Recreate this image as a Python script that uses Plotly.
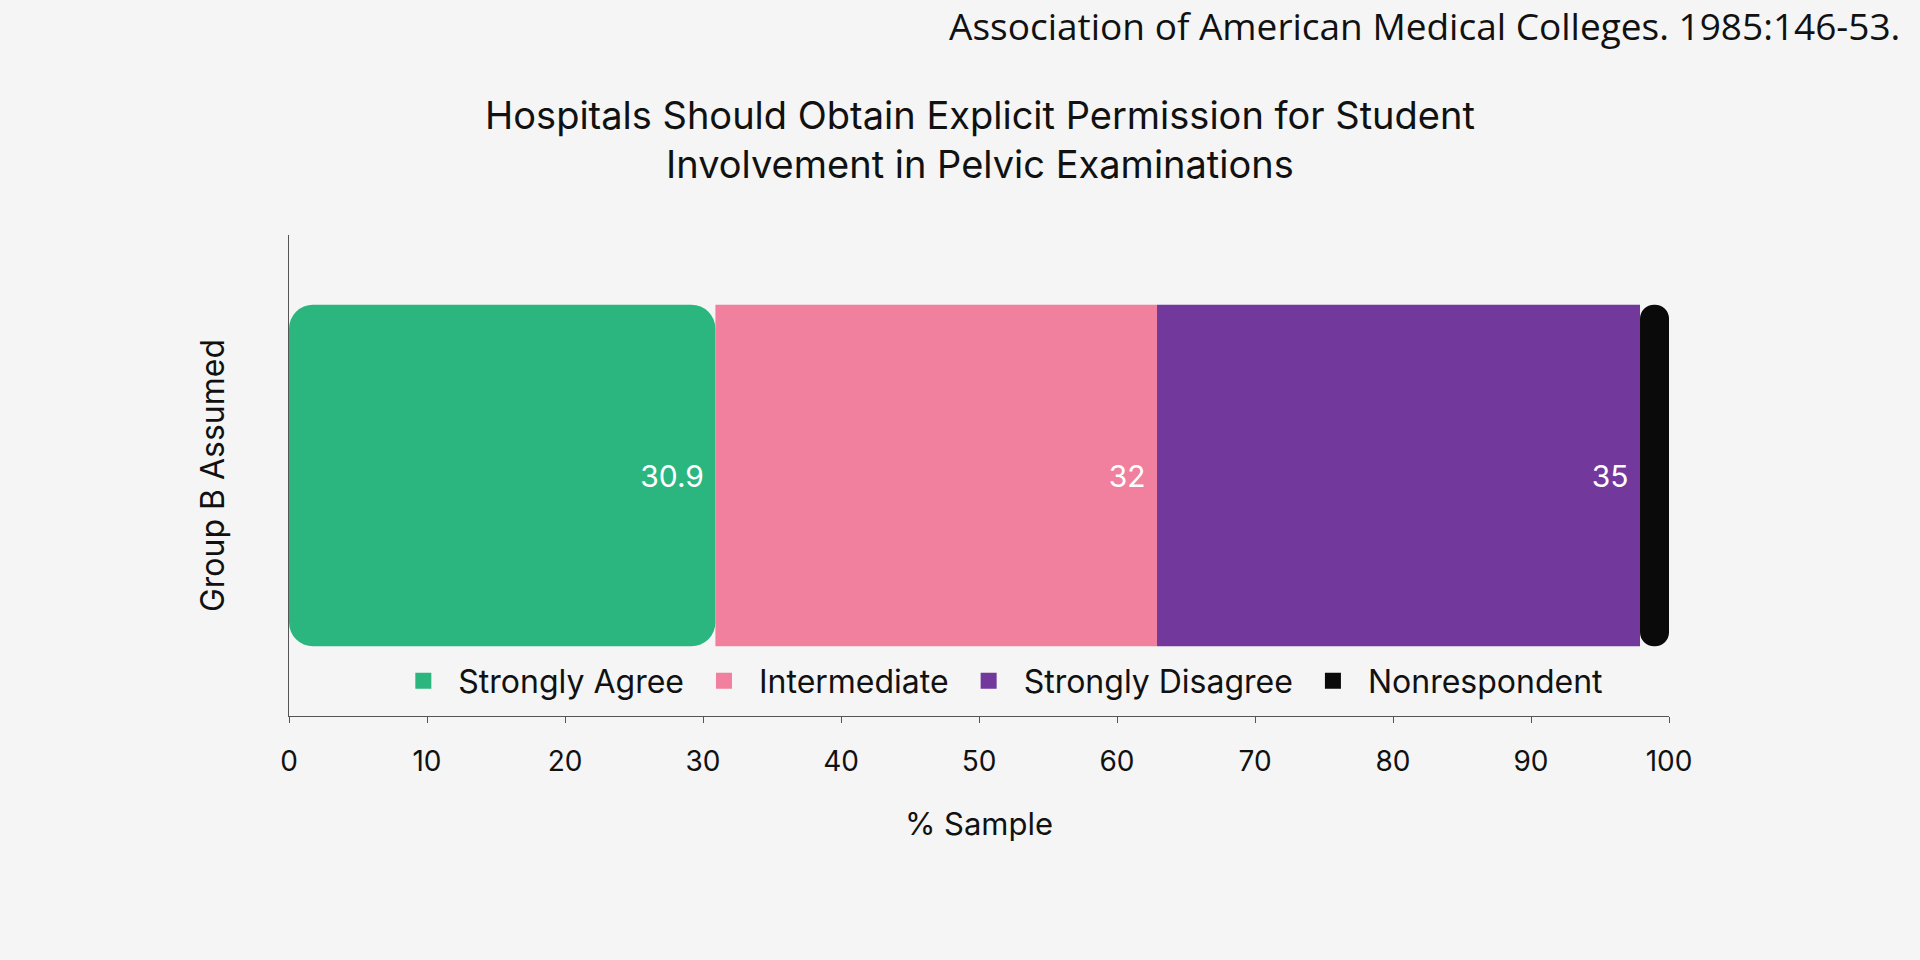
import numpy as np
import plotly.graph_objects as go

# ---- data ----
category = ["Group B Assumed"]
series_names = ["Strongly Agree", "Intermediate", "Strongly Disagree", "Nonrespondent"]
series_values = [30.9, 32, 35, 2.1]
series_colors = ["#2bb67f", "#f0809e", "#72389c", "#0a0a0a"]
show_labels = [True, True, True, False]
x_ticks = [0, 10, 20, 30, 40, 50, 60, 70, 80, 90, 100]

title_text = ("Hospitals Should Obtain Explicit Permission for Student<br>"
              "Involvement in Pelvic Examinations")
source_text = "Association of American Medical Colleges. 1985:146-53."

FONT = "Inter"
TXT = "#111111"

bases = np.concatenate([[0], np.cumsum(series_values)[:-1]])

fig = go.Figure()
n = len(series_values)
for i, (name, val, col, lab) in enumerate(zip(series_names, series_values, series_colors, show_labels)):
    if i == 0:
        # drawn from its right end back to 0 so the outer (left) end gets rounded
        base = bases[i] + val
        xval = -val
        radius = 24
    else:
        base = bases[i]
        xval = val
        radius = 24 if i == n - 1 else 0
    use_text = lab and i > 0
    fig.add_trace(go.Bar(
        y=category,
        x=[xval],
        base=[base],
        orientation="h",
        name=name,
        showlegend=False,
        marker=dict(color=col, line=dict(width=0), cornerradius=radius),
        text=[f"{val:g}\u00a0"] if use_text else None,
        texttemplate="%{text}" if use_text else None,
        textposition="inside" if use_text else "none",
        insidetextanchor="end",
        textfont=dict(color="white", size=30, family=FONT),
        width=0.71,
        hovertemplate=f"{name}: {val:g}<extra></extra>",
    ))

# value label of the first segment (transparent overlay, same extent)
fig.add_trace(go.Bar(
    y=category, x=[series_values[0]], base=[bases[0]], orientation="h",
    showlegend=False, hoverinfo="skip",
    marker=dict(color="rgba(0,0,0,0)", line=dict(width=0)),
    text=[f"{series_values[0]:g}\u00a0"], texttemplate="%{text}",
    textposition="inside", insidetextanchor="end",
    textfont=dict(color="white", size=30, family=FONT), width=0.71,
))

# legend entries (square swatches)
for name, col in zip(series_names, series_colors):
    fig.add_trace(go.Scatter(
        x=[None], y=[None], mode="markers", name=name,
        marker=dict(symbol="square", size=16, color=col),
        showlegend=True, hoverinfo="skip",
    ))

fig.add_annotation(
    text=source_text, xref="paper", yref="paper",
    x=1.169, y=1.492, xanchor="right", yanchor="top",
    showarrow=False, font=dict(family="Open Sans", size=37, color=TXT),
)

fig.update_layout(
    width=1920, height=960,
    barmode="overlay",
    paper_bgcolor="#f4f5f4",
    plot_bgcolor="rgba(0,0,0,0)",
    margin=dict(l=289, r=251, t=235, b=244),
    font=dict(family=FONT, color=TXT),
    title=dict(text=title_text, x=0.5104, xanchor="center", y=0.866, yanchor="middle",
               font=dict(size=38, family=FONT, color=TXT)),
    showlegend=True,
    legend=dict(orientation="h", x=0.514, xanchor="center", y=0.073, yanchor="middle",
                font=dict(size=32, family=FONT, color=TXT), itemwidth=60,
                bgcolor="rgba(0,0,0,0)", traceorder="normal"),
    xaxis=dict(range=[0, 100], tickvals=x_ticks, showgrid=False, zeroline=False,
               showline=True, linecolor="#555555", linewidth=1,
               ticks="outside", ticklen=6, tickcolor="#555555", ticklabelstandoff=14,
               tickfont=dict(size=28, family=FONT, color=TXT),
               title=dict(text="% Sample", font=dict(size=31, family=FONT, color=TXT),
                          standoff=36)),
    yaxis=dict(showgrid=False, zeroline=False, showline=True, linecolor="#555555",
               linewidth=1, showticklabels=False, ticks="", range=[-0.5, 0.5],
               title=dict(text=category[0], font=dict(size=32, family=FONT, color=TXT),
                          standoff=53)),
)

fig.write_html("out.html", config={"displayModeBar": False},
               post_script="document.body.style.margin='0';")
